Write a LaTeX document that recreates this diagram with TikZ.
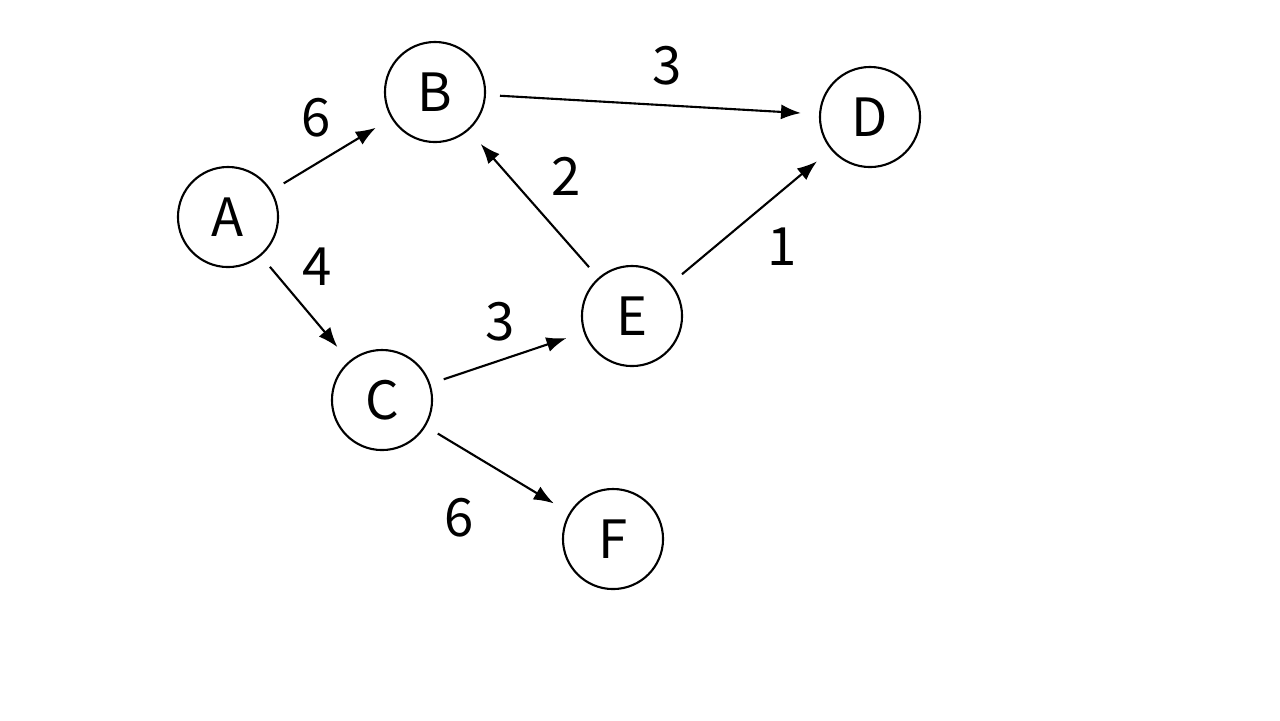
\documentclass[tikz,border=0pt]{standalone}
\usepackage{fontspec}
\setmainfont{Noto Sans CJK JP}
\usetikzlibrary{arrows.meta}
\begin{document}
\begin{tikzpicture}[x=0.01cm,y=-0.01cm,
  vtx/.style={draw,circle,minimum size=1cm,inner sep=0pt,line width=0.6pt,font=\fontsize{15}{15}\selectfont},
  lbl/.style={font=\fontsize{15}{15}\selectfont},
  edge/.style={line width=0.6pt,-{Latex[length=2mm,width=1.5mm]},shorten <=0.14cm,shorten >=0.18cm}]
\useasboundingbox (0,0) rectangle (1280,720);
\node[vtx] (A) at (228,217) {A};
\node[vtx] (B) at (435,92) {B};
\node[vtx] (C) at (382,400) {C};
\node[vtx] (D) at (870,117) {D};
\node[vtx] (E) at (632,316) {E};
\node[vtx] (F) at (613,539) {F};
\draw[edge] (A) -- (B);
\draw[edge] (A) -- (C);
\draw[edge] (B) -- (D);
\draw[edge] (E) -- (B);
\draw[edge] (E) -- (D);
\draw[edge] (C) -- (E);
\draw[edge] (C) -- (F);
\node[lbl] (l1) at (316,118) {6};
\node[lbl] (l2) at (317,267) {4};
\node[lbl] (l3) at (667,66) {3};
\node[lbl] (l4) at (566,176) {2};
\node[lbl] (l5) at (782,247) {1};
\node[lbl] (l6) at (500,322) {3};
\node[lbl] (l7) at (459,518) {6};
\end{tikzpicture}
\end{document}
